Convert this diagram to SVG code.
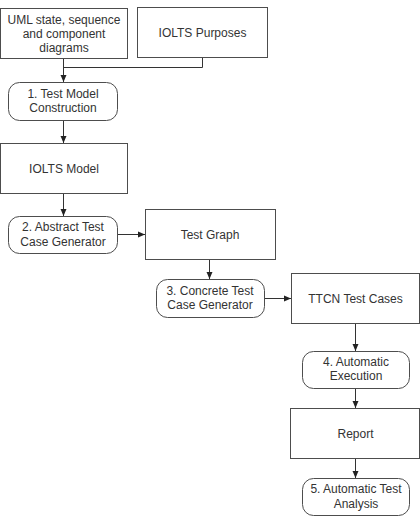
<svg xmlns="http://www.w3.org/2000/svg" width="420" height="522" viewBox="0 0 420 522">
<style>
.box{fill:#fff;stroke:#4d4d4d;stroke-width:1}
.t{font-family:"Liberation Sans",Arial,sans-serif;font-size:12px;fill:#333;text-anchor:middle}
.c{fill:none;stroke:#333;stroke-width:1}
</style>
<defs>
<marker id="a" markerWidth="8" markerHeight="8" refX="7" refY="4" orient="auto" markerUnits="userSpaceOnUse">
<path d="M0,1 L7,4 L0,7 Z" fill="#222"/>
</marker>
</defs>
<rect width="420" height="522" fill="#fff"/>
<g id="connectors">
<path class="c" d="M63.5,58 V82" marker-end="url(#a)"/>
<path class="c" d="M202.5,57 V67.5 H63.5"/>
<path class="c" d="M63.5,120 V143" marker-end="url(#a)"/>
<path class="c" d="M63.5,193 V216" marker-end="url(#a)"/>
<path class="c" d="M117,234.5 H145" marker-end="url(#a)"/>
<path class="c" d="M209.5,259 V279" marker-end="url(#a)"/>
<path class="c" d="M264,298.5 H291" marker-end="url(#a)"/>
<path class="c" d="M355.5,323 V351" marker-end="url(#a)"/>
<path class="c" d="M355.5,388 V408" marker-end="url(#a)"/>
<path class="c" d="M355.5,458 V478" marker-end="url(#a)"/>
</g>
<g id="uml">
<rect class="box" x="0.5" y="8.5" width="127" height="50"/>
<text class="t" x="64" y="23.5">UML state, sequence</text>
<text class="t" x="64" y="37.5">and component</text>
<text class="t" x="64" y="51.5">diagrams</text>
</g>
<g id="purposes">
<rect class="box" x="137.5" y="7.5" width="130" height="50"/>
<text class="t" x="202.5" y="37">IOLTS Purposes</text>
</g>
<g id="step1">
<rect class="box" x="8.5" y="82.5" width="109" height="38" rx="11"/>
<text class="t" x="63" y="97.5">1. Test Model</text>
<text class="t" x="63" y="112">Construction</text>
</g>
<g id="model">
<rect class="box" x="0.5" y="143.5" width="127" height="50"/>
<text class="t" x="64" y="172.5">IOLTS Model</text>
</g>
<g id="step2">
<rect class="box" x="8.5" y="216.5" width="109" height="37" rx="11"/>
<text class="t" x="63" y="231">2. Abstract Test</text>
<text class="t" x="63" y="245.5">Case Generator</text>
</g>
<g id="graph">
<rect class="box" x="145.5" y="209.5" width="130" height="50"/>
<text class="t" x="210" y="238.5">Test Graph</text>
</g>
<g id="step3">
<rect class="box" x="156.5" y="279.5" width="108" height="38" rx="11"/>
<text class="t" x="210" y="294.5">3. Concrete Test</text>
<text class="t" x="210" y="309">Case Generator</text>
</g>
<g id="ttcn">
<rect class="box" x="291.5" y="273.5" width="128" height="50"/>
<text class="t" x="355.5" y="302.5">TTCN Test Cases</text>
</g>
<g id="step4">
<rect class="box" x="302.5" y="351.5" width="107" height="37" rx="11"/>
<text class="t" x="356" y="366">4. Automatic</text>
<text class="t" x="356" y="380">Execution</text>
</g>
<g id="report">
<rect class="box" x="290.5" y="408.5" width="129" height="50"/>
<text class="t" x="355.5" y="437.5">Report</text>
</g>
<g id="step5">
<rect class="box" x="302.5" y="478.5" width="107" height="37" rx="11"/>
<text class="t" x="356" y="493">5. Automatic Test</text>
<text class="t" x="356" y="507.5">Analysis</text>
</g>
</svg>
